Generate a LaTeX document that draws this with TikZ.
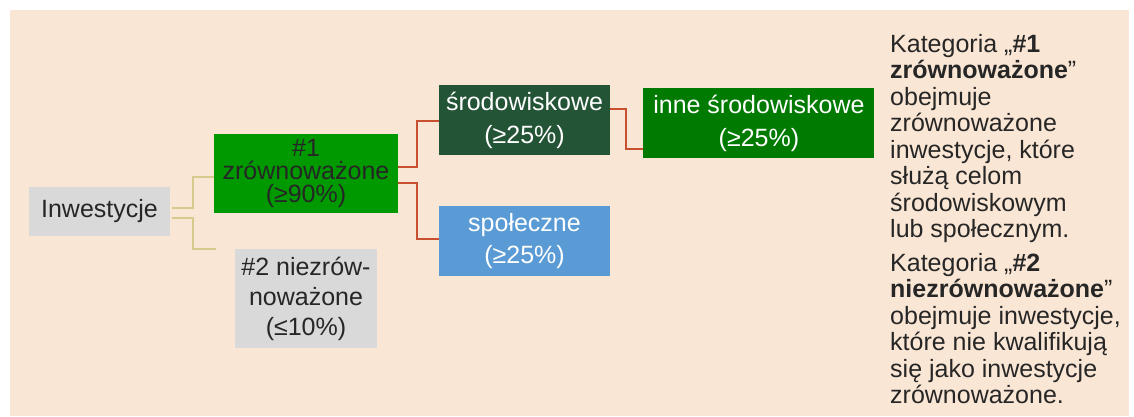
\documentclass[tikz,border=0pt]{standalone}
\usepackage{fontspec}
\setmainfont{Liberation Sans}
\usepackage{xcolor}
\usetikzlibrary{positioning, calc}
\definecolor{peach}{HTML}{FAE6D4}
\definecolor{textdark}{HTML}{262626}
\definecolor{boxgray}{HTML}{D9D9D9}
\definecolor{sustgreen}{HTML}{009900}
\definecolor{envgreen}{HTML}{245436}
\definecolor{othergreen}{HTML}{007A00}
\definecolor{socblue}{HTML}{5B9BD5}
\definecolor{linetan}{HTML}{D8C98C}
\definecolor{linered}{HTML}{C8502E}
\tikzset{
  block/.style={
    rectangle, inner sep=0pt, align=center, text=textdark,
    font=\fontsize{25}{23}\selectfont
  },
  grayblock/.style={block, fill=boxgray},
  sustblock/.style={block, fill=sustgreen},
  whiteblock/.style={
    block, text=white, minimum width=171pt, minimum height=70pt,
    font=\fontsize{25}{33}\selectfont
  },
  tanline/.style={draw=linetan, line width=2pt},
  redline/.style={draw=linered, line width=2pt},
}

\begin{document}
\begin{tikzpicture}[x=1pt, y=-1pt]
    \fill[white] (0,0) rectangle (1134,416);
    \fill[peach] (10,10) rectangle (1129,416);
    \useasboundingbox (0,0) rectangle (1134,416);

    \node[grayblock, minimum width=141pt, minimum height=49pt] (inv) at (99.5,211.5) {Inwestycje};
    \node[sustblock, minimum width=184pt, minimum height=79pt] (s1) at (306,173.5) {\#1\\zrównoważone\\(≥90\%)};
    \node[grayblock, minimum width=142pt, minimum height=99pt, font=\fontsize{25}{30}\selectfont,
      below=36pt of s1] (s2) {\#2 niezrów-\\noważone\\(≤10\%)};
    \node[whiteblock, fill=envgreen] (env) at (524.5,120) {środowiskowe\\(≥25\%)};
    \node[whiteblock, fill=socblue, font=\fontsize{25}{32}\selectfont, below=51pt of env] (soc) {społeczne\\(≥25\%)};
    \node[whiteblock, fill=othergreen, minimum width=231pt, right=33pt of env, yshift=-3pt] (oenv)
      {inne środowiskowe\\(≥25\%)};

    \node[anchor=north west, inner sep=0pt, align=left, text=textdark,
      font=\fontsize{25}{26.5}\selectfont] (note) at (890,34)
      {Kategoria „\textbf{\#1}\\\textbf{zrównoważone}”\\obejmuje\\zrównoważone\\inwestycje, które\\służą celom\\środowiskowym\\lub społecznym.\\[7pt]%
       Kategoria „\textbf{\#2}\\\textbf{niezrównoważone}”\\obejmuje inwestycje,\\które nie kwalifikują\\się jako inwestycje\\zrównoważone.};

    \coordinate (s2end) at ([xshift=-19pt]s2.north west);

    % branches from Inwestycje
    \draw[tanline] ([xshift=2pt, yshift=3.5pt]inv.east) -- ++(21,0) |- ([yshift=-3.5pt]s1.west);
    \draw[tanline] ([xshift=2pt, yshift=-6.5pt]inv.east) -- ++(21,0) |- (s2end);

    % branches from #1
    \draw[redline] ([yshift=6.5pt]s1.east) -- ++(19,0) |- ([yshift=-1pt]env.west);
    \draw[redline] ([yshift=-9.5pt]s1.east) -- ++(19,0) |- ([yshift=2pt]soc.west);
    \draw[redline] ([yshift=11pt]env.east) -- ++(16,0) |- ([yshift=-26pt]oenv.west);
\end{tikzpicture}
\end{document}
